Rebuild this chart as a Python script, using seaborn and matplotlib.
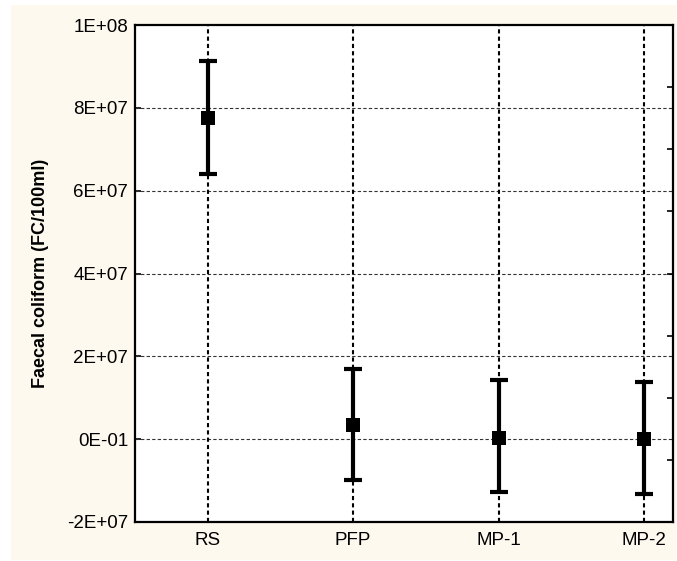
import matplotlib
matplotlib.use("Agg")
import matplotlib.pyplot as plt
import seaborn as sns
import pandas as pd
from matplotlib.patches import Rectangle

categories = ["RS", "PFP", "MP-1", "MP-2"]
means = [7.76e7, 3.3e6, 0.4e6, 0.0]
upper = [9.14e7, 1.70e7, 1.425e7, 1.37e7]
lower = [6.40e7, -0.99e7, -1.28e7, -1.33e7]
ytick_values = [-2e7, 0, 2e7, 4e7, 6e7, 8e7, 1e8]
ytick_labels = ["-2E+07", "0E-01", "2E+07", "4E+07", "6E+07", "8E+07", "1E+08"]
ylabel = "Faecal coliform (FC/100ml)"

sns.set_theme(style="white")
plt.rcParams["font.family"] = ["Liberation Sans", "DejaVu Sans"]
plt.rcParams["text.color"] = "black"
plt.rcParams["axes.labelcolor"] = "black"

fig = plt.figure(figsize=(6.77, 5.61), dpi=100, facecolor="white")
fig.patches.append(Rectangle((11 / 677, 1 - 560 / 561), 665 / 677, 555 / 561,
                             transform=fig.transFigure, facecolor="#fdf9ee",
                             edgecolor="none", zorder=-10))
ax = fig.add_axes([135 / 677, 1 - 522 / 561, 538 / 677, 497 / 561])
ax.set_facecolor("white")

df = pd.DataFrame({"cat": categories, "mean": means,
                   "lo": lower, "hi": upper})
df["x"] = range(len(df))

yerr = [[m - l for m, l in zip(means, lower)], [h - m for h, m in zip(upper, means)]]
eb = ax.errorbar(df["x"], df["mean"], yerr=yerr, fmt="none", ecolor="black",
                 elinewidth=3, capsize=6.5, capthick=3, zorder=3)
for cap in eb[1]:
    cap.set_solid_capstyle("round")
sns.scatterplot(data=df, x="x", y="mean", marker="s", s=95, color="black",
                edgecolor="black", linewidth=0, ax=ax, zorder=4, legend=False)

ax.set_xlim(-0.5, 3.2)
ax.set_ylim(-2e7, 1e8)
ax.set_xticks(range(len(categories)))
ax.set_xticklabels(categories, fontsize=13.5)
ax.set_yticks(ytick_values)
ax.set_yticklabels(ytick_labels, fontsize=13.5)
ax.tick_params(axis="x", length=0, pad=7, colors="black")
ax.tick_params(axis="y", direction="in", length=4, width=1.2, pad=5, colors="black")
ax.set_xlabel("")
ax.set_ylabel(ylabel, fontsize=13, fontweight="bold", labelpad=13, color="black")

for y in ytick_values[1:-1]:
    ax.axhline(y, color="#333333", linestyle=(0, (3, 2)), linewidth=0.8, zorder=1)
for x in range(len(categories)):
    ax.axvline(x, color="black", linestyle=(0, (2, 1.5)), linewidth=1.5, zorder=1)

for s in ax.spines.values():
    s.set_visible(True)
    s.set_color("black")
    s.set_linewidth(1.6)

ax2 = ax.twinx()
ax2.set_ylim(0, 8)
ax2.set_yticks(range(1, 8))
ax2.set_yticklabels([])
ax2.tick_params(axis="y", direction="in", length=4, width=1.2, colors="black")
for s in ax2.spines.values():
    s.set_visible(False)

fig.savefig("out.png", dpi=100, facecolor="white")
